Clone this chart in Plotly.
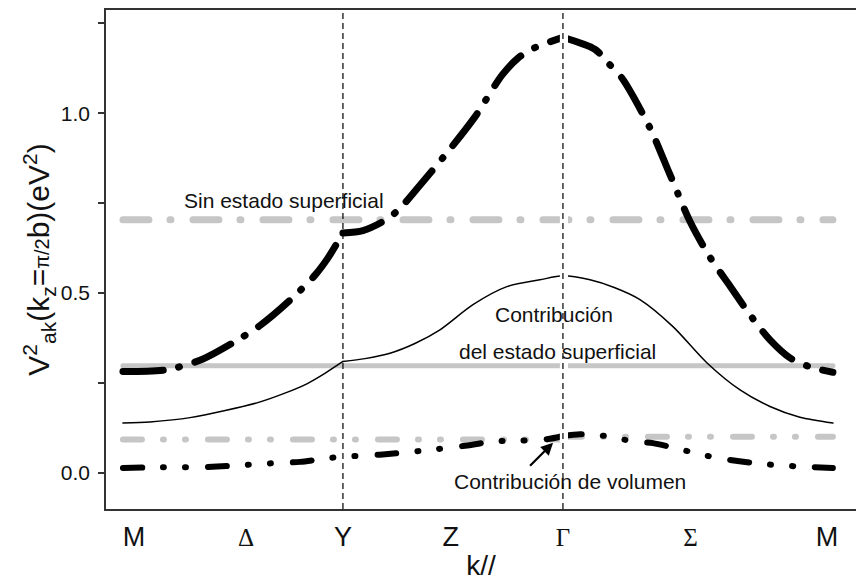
import plotly.graph_objects as go

# k-path positions (units along the path M -> Y -> Gamma -> M)
k_tick_pos = [0.05, 0.56, 1.0, 1.49, 2.0, 2.58, 3.2]
k_tick_labels = ["M", "Δ", "Y", "Z", "Γ", "Σ", "M"]
k_sym_points = [1.0, 2.0]          # Y and Gamma
k_start, k_end = 0.0, 3.227

# Total V^2 (with surface state)
k_total = [0, 0.2, 0.364, 0.5, 0.623, 0.759, 0.873, 0.932, 1.0, 1.091, 1.182, 1.25, 1.35,
           1.486, 1.6, 1.723, 1.795, 1.864, 2.0, 2.145, 2.205, 2.268, 2.395, 2.486, 2.577,
           2.668, 2.759, 2.85, 2.941, 3.032, 3.123, 3.227]
v_total = [0.282, 0.287, 0.317, 0.362, 0.41, 0.48, 0.55, 0.598, 0.667, 0.674, 0.699, 0.73, 0.80,
           0.90, 0.99, 1.106, 1.153, 1.18, 1.211, 1.178, 1.14, 1.098, 0.96, 0.83, 0.70,
           0.60, 0.52, 0.44, 0.37, 0.32, 0.295, 0.28]

# Surface-state contribution
k_surf = [0, 0.123, 0.305, 0.609, 0.736, 0.836, 0.918, 1.0, 1.1, 1.214, 1.327, 1.441, 1.591,
          1.745, 1.895, 2.0, 2.123, 2.236, 2.35, 2.5, 2.655, 2.805, 2.941, 3.077, 3.227]
v_surf = [0.139, 0.142, 0.154, 0.195, 0.222, 0.248, 0.277, 0.31, 0.318, 0.333, 0.36, 0.398, 0.468,
          0.518, 0.537, 0.548, 0.537, 0.515, 0.482, 0.407, 0.306, 0.231, 0.185, 0.155, 0.139]

# Bulk (volume) contribution
k_vol = [0, 0.182, 0.318, 0.427, 0.568, 0.705, 0.805, 0.941, 1.023, 1.168, 1.409, 1.545, 1.691,
         1.795, 1.927, 2.0, 2.077, 2.136, 2.223, 2.318, 2.409, 2.518, 2.6, 2.7, 2.895, 3.077, 3.227]
v_vol = [0.014, 0.016, 0.016, 0.018, 0.023, 0.028, 0.031, 0.042, 0.046, 0.051, 0.065, 0.075, 0.088,
         0.09, 0.094, 0.103, 0.108, 0.107, 0.10, 0.088, 0.083, 0.068, 0.056, 0.042, 0.026, 0.018, 0.014]

# Constant reference levels
v_no_surface = 0.704
v_surface_const = 0.298
v_vol_const_left = 0.093
v_vol_const_right = 0.101

GRAY = "#c6c6c6"
BLACK = "#000000"
DASH_DOT = "26px,21px,1px,22px"
DASH_DOT_BLACK = "40px,16px,1px,16px"
DASH_DOT_DOT = "19px,21px,1px,21px,1px,22px"

fig = go.Figure()


def add_piecewise(ks, vs, line, breaks):
    """Draw a curve as smooth pieces between high-symmetry points (kinks kept sharp)."""
    edges = [ks[0]] + list(breaks) + [ks[-1]]
    for a, b in zip(edges[:-1], edges[1:]):
        seg = [(k, v) for k, v in zip(ks, vs) if a - 1e-9 <= k <= b + 1e-9]
        fig.add_trace(go.Scatter(x=[p[0] for p in seg], y=[p[1] for p in seg], mode="lines",
                                 line=dict(shape="spline", smoothing=0.8, **line),
                                 hoverinfo="skip"))


# Gray constant levels
fig.add_trace(go.Scatter(x=[k_start, k_end], y=[v_no_surface, v_no_surface], mode="lines",
                         line=dict(color=GRAY, width=7, dash=DASH_DOT), hoverinfo="skip"))
fig.add_trace(go.Scatter(x=[k_start, k_end], y=[v_surface_const, v_surface_const], mode="lines",
                         line=dict(color=GRAY, width=5), hoverinfo="skip"))
fig.add_trace(go.Scatter(x=[k_start, k_sym_points[1], None, k_sym_points[1], k_end],
                         y=[v_vol_const_left, v_vol_const_left, None, v_vol_const_right, v_vol_const_right],
                         mode="lines", line=dict(color=GRAY, width=6, dash=DASH_DOT_DOT),
                         hoverinfo="skip"))

# Black curves
add_piecewise(k_total, v_total, dict(color=BLACK, width=7, dash=DASH_DOT_BLACK), k_sym_points)
add_piecewise(k_surf, v_surf, dict(color=BLACK, width=1.5), [k_sym_points[0]])
add_piecewise(k_vol, v_vol, dict(color=BLACK, width=6, dash=DASH_DOT_DOT), [k_sym_points[1]])

shapes = [dict(type="rect", xref="x", yref="paper", x0=1.986, x1=2.023, y0=0, y1=1,
               fillcolor="white", line=dict(width=0), layer="above")]
for kp in k_sym_points:
    shapes.append(dict(type="line", xref="x", yref="paper", x0=kp, x1=kp, y0=0, y1=1,
                       line=dict(color="black", width=1.2, dash="6px,4px"), layer="above"))

label_font = dict(family="Liberation Sans, Arial, sans-serif", size=21, color="#111")
annotations = [
    dict(x=0.73, y=0.757, text="Sin estado superficial", showarrow=False, font=label_font),
    dict(x=1.959, y=0.44, text="Contribución", showarrow=False, font=label_font),
    dict(x=1.975, y=0.338, text="del estado superficial", showarrow=False, font=label_font),
    dict(x=2.03, y=-0.023, text="Contribución de volumen", showarrow=False, font=label_font),
    dict(x=1.955, y=0.084, ax=-25, ay=25, text=" ", showarrow=True, arrowhead=2,
         arrowsize=1.1, arrowwidth=2.2, arrowcolor="black", font=dict(size=2)),
]

tick_text = []
for lab in k_tick_labels:
    if lab in ("Δ", "Γ", "Σ"):
        tick_text.append('<span style="font-family:Liberation Serif, Times New Roman, serif;font-size:25px">' + lab + '</span>')
    else:
        tick_text.append(lab)

fig.update_layout(
    width=856, height=581,
    margin=dict(l=106, r=0, t=10, b=72),
    paper_bgcolor="white", plot_bgcolor="white",
    showlegend=False,
    shapes=shapes,
    annotations=annotations,
    font=dict(family="Liberation Sans, Arial, sans-serif", color="#111"),
    xaxis=dict(range=[-0.077, 3.332], tickvals=k_tick_pos, ticktext=tick_text, ticks="",
               showgrid=False, zeroline=False, showline=True, linecolor="#333", linewidth=1.5,
               mirror=True, tickfont=dict(size=27), ticklabelstandoff=3,
               title=dict(text="k//", font=dict(size=28), standoff=8)),
    yaxis=dict(range=[-0.1, 1.287], tickvals=[0, 0.5, 1.0],
               ticktext=["0.0", "0.5", "1.0"], ticks="outside", ticklen=6,
               tickcolor="#333", tickwidth=1.5,
               minor=dict(dtick=0.25, tick0=0, ticks="outside", ticklen=6,
                          tickcolor="#333", tickwidth=1.5, showgrid=False),
               showgrid=False, zeroline=False, showline=True, linecolor="#333", linewidth=1.5,
               tickfont=dict(size=21), ticklabelstandoff=4,
               title=dict(text='V<sup>2</sup><sub>ak</sub>(k<sub>z</sub>=<span style="font-size:20px">π/2</span>b)(eV<sup>2</sup>)',
                          font=dict(size=30), standoff=2)),
)

post = """
var gd = document.getElementById('{plot_id}');
function roundCaps(){
  gd.querySelectorAll('.scatterlayer .js-line').forEach(function(p){
    p.style.strokeLinecap = 'round';
    p.style.strokeLinejoin = 'round';
  });
}
roundCaps();
gd.on('plotly_afterplot', roundCaps);
"""

fig.write_html("out.html", post_script=post)
